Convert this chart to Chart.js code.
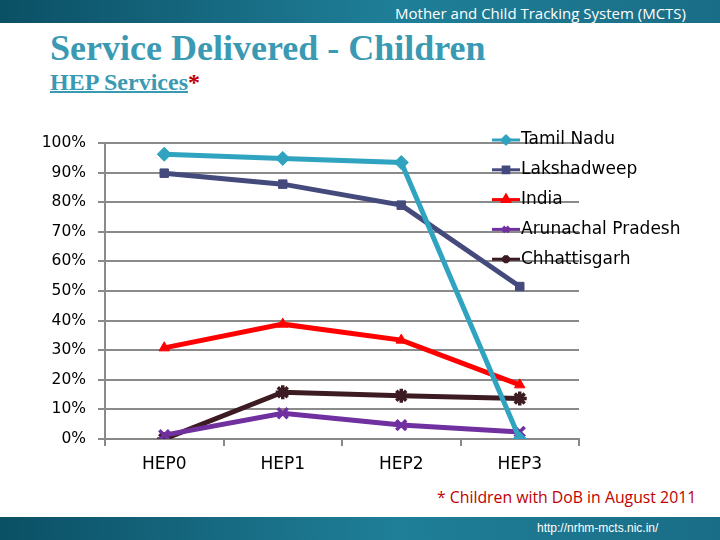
<!DOCTYPE html>
<html>
<head>
<meta charset="utf-8">
<script src="https://cdn.jsdelivr.net/npm/chart.js@4"></script>
<style>
	body { margin: 0; width: 720px; height: 540px; position: relative; overflow: hidden; background: #fff; }
	#topBar { position: absolute; left: 0; top: 0; width: 720px; height: 23px;
		background: linear-gradient(90deg, #0b5065 0%, #1f7f98 55%, #1a6d86 100%); }
	#topBar span { position: absolute; right: 34px; top: 3px; color: #fff; font: 15px "Open Sans", sans-serif; }
	#title { position: absolute; left: 50px; top: 27px; color: #3a9ab3; font: bold 36px "Liberation Serif", serif; }
	#sub { position: absolute; left: 50px; top: 69px; color: #3a9ab3; font: bold 24px "Liberation Serif", serif; }
	#sub u { text-decoration-thickness: 2px; }
	#sub b { color: #c00000; }
	#note { position: absolute; left: 437px; top: 486px; color: #c00000; font: 15.8px "Open Sans", sans-serif; }
	#bottomBar { position: absolute; left: 0; top: 517px; width: 720px; height: 23px;
		background: linear-gradient(90deg, #0b5065 0%, #1f7f98 55%, #1a6d86 100%); }
	#bottomBar span { position: absolute; left: 537px; top: 4px; color: #fff; font: 12px "Liberation Sans", sans-serif; }
	#stockGraph { position: absolute; left: 0; top: 0; }
</style>
</head>
<body>
<div id="topBar"><span>Mother and Child Tracking System (MCTS)</span></div>
<div id="title">Service Delivered - Children</div>
<div id="sub"><u>HEP Services</u><b>*</b></div>
<div id="note">* Children with DoB in August 2011</div>
<div id="bottomBar"><span>http://nrhm-mcts.nic.in/</span></div>
<canvas id="stockGraph" width="720" height="540"></canvas>
<script>
// values (percent)
var categories = ['HEP0', 'HEP1', 'HEP2', 'HEP3'];
var seriesNames = ['Tamil Nadu', 'Lakshadweep', 'India', 'Arunachal Pradesh', 'Chhattisgarh'];
var tamilNadu = [96.2, 94.8, 93.4, 0];
var lakshadweep = [89.8, 86.1, 79.0, 51.5];
var india = [30.8, 38.8, 33.4, 18.3];
var arunachal = [1.3, 8.7, 4.7, 2.4];
var chhattisgarh = [0, 15.8, 14.6, 13.7];

var colors = ['#2fa3bf', '#454a7c', '#ff0000', '#7030a0', '#3d1b22'];
var markers = ['rectRot', 'rect', 'triangle', 'crossRot', 'star'];
var seriesData = [tamilNadu, lakshadweep, india, arunachal, chhattisgarh];

var ctx = document.getElementById('stockGraph');

var datasets = [];
for (var i = 0; i < seriesNames.length; i++) {
	datasets.push({
		label: seriesNames[i],
		data: seriesData[i],
		borderColor: colors[i],
		backgroundColor: colors[i],
		borderWidth: 5,
		pointStyle: markers[i],
		pointRadius: i >= 3 ? 7 : (i == 0 ? 7 : 6),
		pointBorderWidth: i >= 3 ? 3.5 : 1,
		pointBorderColor: colors[i],
		tension: 0
	});
}

// legend sits over the plot, drawn by hand
var overlayLegend = {
	id: 'overlayLegend',
	afterDraw: function(chart) {
		var c = chart.ctx;
		var x0 = 492, x1 = 520;
		c.save();
		chart.data.datasets.forEach(function(ds, i) {
			var y = 140 + i * 29.8;
			c.strokeStyle = ds.borderColor;
			c.fillStyle = ds.borderColor;
			c.lineWidth = 3;
			c.beginPath();
			c.moveTo(x0, y);
			c.lineTo(x1, y);
			c.stroke();
			Chart.helpers.drawPoint(c, {
				pointStyle: ds.pointStyle,
				radius: 4,
				borderWidth: i >= 3 ? 3 : 1
			}, (x0 + x1) / 2, y);
			c.fillStyle = '#000';
			c.font = '17px "DejaVu Sans"';
			c.textBaseline = 'middle';
			c.textAlign = 'left';
			c.fillText(ds.label, x1 + 1, y);
		});
		c.restore();
	}
};

new Chart(ctx, {
	type: 'line',
	data: { labels: categories, datasets: datasets },
	plugins: [overlayLegend],
	options: {
		responsive: false,
		animation: false,
		layout: { padding: { left: 0, right: 141, top: 143, bottom: 61 } },
		plugins: { legend: { display: false }, tooltip: { enabled: false } },
		scales: {
			x: {
				offset: true,
				afterFit: function(scale) { scale.height = 40; },
				grid: { offset: true, drawOnChartArea: false, tickLength: 7, color: '#888', lineWidth: 2 },
				border: { color: '#888', width: 2 },
				ticks: { color: '#000', padding: 8, font: { family: 'DejaVu Sans', size: 17 } }
			},
			y: {
				min: 0,
				max: 100,
				afterFit: function(scale) { scale.width = 105; },
				grid: { color: '#8a8a8a', lineWidth: 2, tickLength: 7 },
				border: { color: '#8a8a8a', width: 2 },
				ticks: {
					stepSize: 10,
					color: '#000',
					padding: 12,
					font: { family: 'DejaVu Sans', size: 15.5 },
					callback: function(v) { return v + '%'; }
				}
			}
		}
	}
});
</script>
</body>
</html>
